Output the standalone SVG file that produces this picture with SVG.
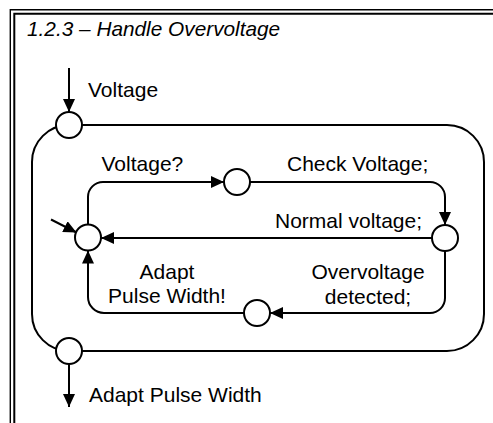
<svg xmlns="http://www.w3.org/2000/svg" width="493" height="423" viewBox="0 0 493 423">
<defs>
<style>
.frame{fill:none;stroke:#000}
.ln{fill:none;stroke:#000;stroke-width:2}
.arr{marker-end:url(#ah)}
.st{fill:#fff;stroke:#000;stroke-width:2}
text{font-family:"Liberation Sans",Arial,sans-serif;font-size:21px;fill:#000}
.title{font-style:italic;font-size:20.8px}
.c{text-anchor:middle}
</style>
<marker id="ah" markerUnits="userSpaceOnUse" markerWidth="13" markerHeight="12" refX="13" refY="6" orient="auto">
<path d="M0,0 L13,6 L0,12 z" fill="#000"/>
</marker>
</defs>
<rect x="0" y="0" width="493" height="423" fill="#fff"/>
<g id="frame">
<path class="frame" stroke-width="1.4" d="M10.3,423 V9.8 H493"/>
<path class="frame" stroke-width="2" d="M14.3,423 V13.8 H493"/>
<text class="title" x="27" y="36">1.2.3 – Handle Overvoltage</text>
</g>
<g id="connectors">
<path class="ln arr" d="M69,68 V112"/>
<path class="ln" d="M69,125 H447 A37,37 0 0 1 484,162 V314 A37,37 0 0 1 447,351 H69"/>
<path class="ln" d="M69,125 A37,37 0 0 0 32,162 V314 A37,37 0 0 0 69,351"/>
<path class="ln arr" d="M69,351 V407"/>
<path class="ln arr" d="M88,237 V197 A15,15 0 0 1 103,182 H224"/>
<path class="ln arr" d="M237,182 H430 A15,15 0 0 1 445,197 V225"/>
<path class="ln arr" d="M445,238 H101"/>
<path class="ln arr" d="M445,238 V298 A15,15 0 0 1 430,313 H270"/>
<path class="ln arr" d="M257,313 H104 A16,16 0 0 1 88,297 V250.5"/>
<path class="ln arr" d="M51,219.5 L76.5,232.5"/>
</g>
<g id="node-in"><circle class="st" cx="69" cy="125" r="13"/><text x="88" y="97">Voltage</text></g>
<g id="node-out"><circle class="st" cx="69" cy="351" r="13"/><text x="89" y="402">Adapt Pulse Width</text></g>
<g id="node-idle"><circle class="st" cx="88" cy="237.5" r="13"/></g>
<g id="node-check"><circle class="st" cx="237" cy="182" r="13"/></g>
<g id="node-decide"><circle class="st" cx="445" cy="238" r="13"/></g>
<g id="node-adapt"><circle class="st" cx="257" cy="313" r="13"/></g>
<g id="labels">
<text x="101.5" y="171">Voltage?</text>
<text x="287" y="171">Check Voltage;</text>
<text x="275" y="228">Normal voltage;</text>
<text class="c" x="368" y="278.5">Overvoltage</text>
<text class="c" x="368" y="303.5">detected;</text>
<text class="c" x="167" y="278.5">Adapt</text>
<text class="c" x="167" y="303">Pulse Width!</text>
</g>
</svg>
